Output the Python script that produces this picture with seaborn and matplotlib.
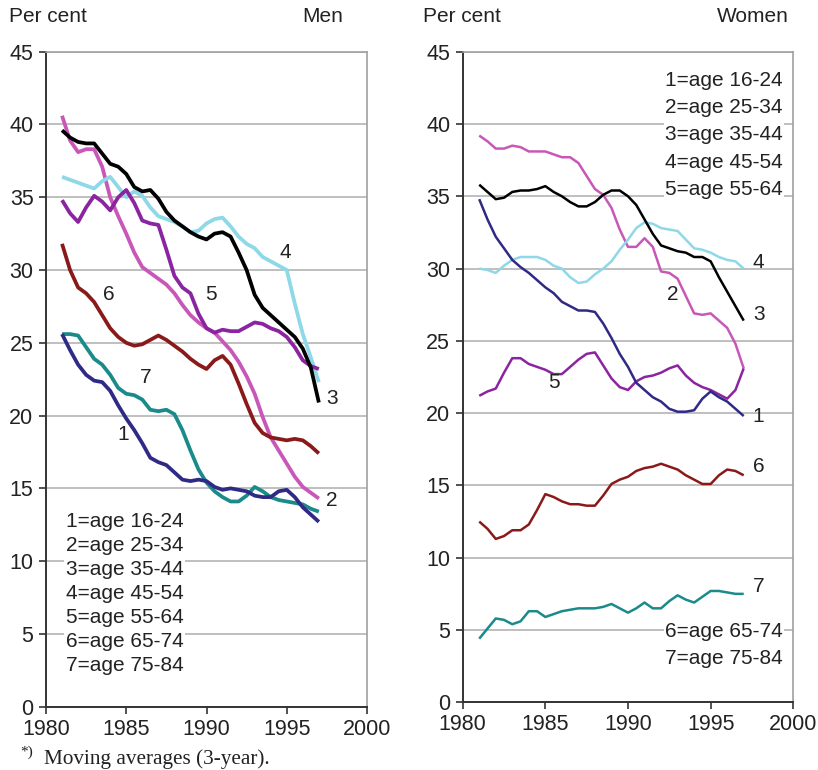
import matplotlib
matplotlib.use("Agg")
import matplotlib.pyplot as plt
import numpy as np
import pandas as pd
import seaborn as sns

# ---------------- data ----------------
years = [1981 + 0.5 * i for i in range(33)]

men_1 = [25.6, 24.5, 23.5, 22.8, 22.4, 22.3, 21.7, 20.7, 19.8, 19.0, 18.1, 17.1, 16.8, 16.6, 16.1, 15.6, 15.5,
         15.6, 15.5, 15.1, 14.9, 15.0, 14.9, 14.8, 14.5, 14.4, 14.4, 14.8, 14.9, 14.4, 13.7, 13.2, 12.7]
men_2 = [40.6, 38.9, 38.1, 38.3, 38.3, 37.1, 35.0, 33.7, 32.5, 31.2, 30.2, 29.8, 29.4, 29.0, 28.4, 27.6, 26.9,
         26.4, 26.0, 25.7, 25.1, 24.5, 23.7, 22.7, 21.5, 19.9, 18.5, 17.6, 16.7, 15.8, 15.1, 14.7, 14.3]
men_3 = [39.6, 39.1, 38.8, 38.7, 38.7, 38.0, 37.3, 37.1, 36.6, 35.7, 35.4, 35.5, 34.9, 34.0, 33.4, 33.0, 32.6,
         32.3, 32.1, 32.5, 32.6, 32.3, 31.2, 30.0, 28.3, 27.4, 26.9, 26.4, 25.9, 25.4, 24.6, 23.3, 20.9]
men_4 = [36.4, 36.2, 36.0, 35.8, 35.6, 36.1, 36.4, 35.7, 35.0, 35.4, 35.1, 34.3, 33.7, 33.5, 33.3, 33.0, 32.6,
         32.7, 33.2, 33.5, 33.6, 33.0, 32.3, 31.8, 31.5, 30.9, 30.6, 30.3, 30.0, 27.7, 25.6, 24.0, 22.3]
men_5 = [34.8, 33.9, 33.3, 34.3, 35.1, 34.7, 34.1, 35.0, 35.5, 34.6, 33.4, 33.2, 33.1, 31.4, 29.6, 28.8, 28.4,
         27.0, 26.0, 25.7, 25.9, 25.8, 25.8, 26.1, 26.4, 26.3, 26.0, 25.8, 25.4, 24.7, 23.8, 23.4, 23.2]
men_6 = [31.8, 30.0, 28.8, 28.4, 27.8, 26.9, 26.0, 25.4, 25.0, 24.8, 24.9, 25.2, 25.5, 25.2, 24.8, 24.4, 23.9,
         23.5, 23.2, 23.8, 24.1, 23.5, 22.2, 20.8, 19.5, 18.8, 18.5, 18.4, 18.3, 18.4, 18.3, 17.9, 17.4]
men_7 = [25.6, 25.6, 25.5, 24.7, 23.9, 23.5, 22.8, 21.9, 21.5, 21.4, 21.1, 20.4, 20.3, 20.4, 20.1, 19.0, 17.6,
         16.3, 15.4, 14.8, 14.4, 14.1, 14.1, 14.5, 15.1, 14.8, 14.4, 14.2, 14.1, 14.0, 13.9, 13.6, 13.4]

women_1 = [34.8, 33.4, 32.2, 31.4, 30.6, 30.1, 29.7, 29.2, 28.7, 28.3, 27.7, 27.4, 27.1, 27.1, 27.0, 26.2, 25.2,
           24.1, 23.2, 22.1, 21.6, 21.1, 20.8, 20.3, 20.1, 20.1, 20.2, 21.0, 21.5, 21.1, 20.8, 20.3, 19.8]
women_2 = [39.2, 38.8, 38.3, 38.3, 38.5, 38.4, 38.1, 38.1, 38.1, 37.9, 37.7, 37.7, 37.3, 36.4, 35.5, 35.1, 34.2,
           32.7, 31.5, 31.5, 32.1, 31.5, 29.8, 29.7, 29.3, 28.1, 26.9, 26.8, 26.9, 26.4, 25.9, 24.8, 23.1]
women_3 = [35.8, 35.3, 34.8, 34.9, 35.3, 35.4, 35.4, 35.5, 35.7, 35.3, 35.0, 34.6, 34.3, 34.3, 34.6, 35.1, 35.4,
           35.4, 35.0, 34.4, 33.4, 32.4, 31.6, 31.4, 31.2, 31.1, 30.8, 30.8, 30.5, 29.4, 28.4, 27.4, 26.4]
women_4 = [30.0, 29.9, 29.7, 30.2, 30.6, 30.8, 30.8, 30.8, 30.6, 30.2, 30.0, 29.4, 29.0, 29.1, 29.6, 30.0, 30.5,
           31.3, 32.0, 32.8, 33.2, 33.1, 32.8, 32.7, 32.6, 32.0, 31.4, 31.3, 31.1, 30.8, 30.6, 30.5, 30.0]
women_5 = [21.2, 21.5, 21.7, 22.8, 23.8, 23.8, 23.4, 23.2, 23.0, 22.7, 22.7, 23.2, 23.7, 24.1, 24.2, 23.3, 22.4,
           21.8, 21.6, 22.2, 22.5, 22.6, 22.8, 23.1, 23.3, 22.6, 22.1, 21.8, 21.6, 21.3, 21.0, 21.6, 23.1]
women_6 = [12.5, 12.0, 11.3, 11.5, 11.9, 11.9, 12.3, 13.3, 14.4, 14.2, 13.9, 13.7, 13.7, 13.6, 13.6, 14.3, 15.1,
           15.4, 15.6, 16.0, 16.2, 16.3, 16.5, 16.3, 16.1, 15.7, 15.4, 15.1, 15.1, 15.7, 16.1, 16.0, 15.7]
women_7 = [4.4, 5.1, 5.8, 5.7, 5.4, 5.6, 6.3, 6.3, 5.9, 6.1, 6.3, 6.4, 6.5, 6.5, 6.5, 6.6, 6.8,
           6.5, 6.2, 6.5, 6.9, 6.5, 6.5, 7.0, 7.4, 7.1, 6.9, 7.3, 7.7, 7.7, 7.6, 7.5, 7.5]

groups = ["1", "2", "3", "4", "5", "6", "7"]
legend_labels = ["1=age 16-24", "2=age 25-34", "3=age 35-44", "4=age 45-54",
                 "5=age 55-64", "6=age 65-74", "7=age 75-84"]
x_ticks = [1980, 1985, 1990, 1995, 2000]
y_ticks = [0, 5, 10, 15, 20, 25, 30, 35, 40, 45]

colors = {"1": "#2E2A85", "2": "#C857B8", "3": "#000000", "4": "#8ED8E8",
          "5": "#8B24A0", "6": "#8A1A1A", "7": "#1A8A8A"}

men_series = [men_1, men_2, men_3, men_4, men_5, men_6, men_7]
women_series = [women_1, women_2, women_3, women_4, women_5, women_6, women_7]


def long_df(series):
    rows = []
    for g, vals in zip(groups, series):
        for yr, v in zip(years, vals):
            rows.append({"year": yr, "value": v, "group": g})
    return pd.DataFrame(rows)


df_men = long_df(men_series)
df_women = long_df(women_series)

# line end labels (data coordinates)
men_lab = {"4": (1994.9, 31.2), "6": (1983.9, 28.3), "5": (1990.3, 28.3), "7": (1986.2, 22.6),
           "1": (1984.8, 18.7), "3": (1997.8, 21.2), "2": (1997.8, 14.2)}
women_lab = {"4": (1997.9, 30.4), "3": (1997.9, 26.8), "2": (1992.7, 28.2), "5": (1985.5, 22.1),
             "1": (1997.9, 19.75), "6": (1997.9, 16.3), "7": (1997.9, 8.0)}

# ---------------- style ----------------
sns.set_style("white")
plt.rcParams["font.family"] = ["Liberation Sans", "DejaVu Sans"]

W, H = 818, 770
fig = plt.figure(figsize=(W / 100, H / 100), dpi=100)


def px_axes(x0, x1, ytop, ybot):
    return fig.add_axes([x0 / W, 1 - ybot / H, (x1 - x0) / W, (ybot - ytop) / H])


axL = px_axes(46, 367, 51.7, 706.7)
axR = px_axes(462.7, 793.3, 51.7, 702.3)

hue_order = ["2", "4", "5", "3", "6", "7", "1"]

sns.lineplot(data=df_men, x="year", y="value", hue="group", hue_order=hue_order,
             palette=colors, linewidth=2.7, legend=False, ax=axL, sort=True)
sns.lineplot(data=df_women, x="year", y="value", hue="group", hue_order=hue_order,
             palette=colors, linewidth=1.8, legend=False, ax=axR, sort=True)

for ax in (axL, axR):
    for ln in ax.get_lines():
        ln.set_solid_joinstyle("round")
        ln.set_solid_capstyle("butt")
    ax.set_xlim(1980, 2000)
    ax.set_ylim(0, 45)
    ax.set_xticks(x_ticks)
    ax.set_yticks(y_ticks)
    ax.set_xlabel("")
    ax.set_ylabel("")
    ax.yaxis.grid(True, color="#b4b4b4", linewidth=1.2)
    ax.xaxis.grid(False)
    ax.set_axisbelow(True)
    ax.spines["left"].set_color("#333333")
    ax.spines["bottom"].set_color("#333333")
    ax.spines["left"].set_linewidth(1.4)
    ax.spines["bottom"].set_linewidth(1.4)
    ax.spines["top"].set_color("#a0a0a0")
    ax.spines["right"].set_color("#a0a0a0")
    ax.spines["top"].set_linewidth(1.2)
    ax.spines["right"].set_linewidth(1.2)
    ax.tick_params(axis="both", direction="out", length=5, width=1.2, color="#333333",
                   labelsize=15.5, labelcolor="#222222")
    ax.tick_params(axis="y", pad=4, left=True)
    ax.tick_params(axis="x", pad=3.5, bottom=True)

# line labels
for g, (xx, yy) in men_lab.items():
    axL.text(xx, yy, g, fontsize=15, ha="center", va="center", color="#222222")
for g, (xx, yy) in women_lab.items():
    axR.text(xx, yy, g, fontsize=15, ha="center", va="center", color="#222222")

# legends as text blocks with white background
axL.text(0.062, 0.173, "\n".join(legend_labels), transform=axL.transAxes, fontsize=15,
         ha="left", va="center", linespacing=1.34, color="#222222",
         bbox=dict(facecolor="white", edgecolor="none", pad=1))
axR.text(0.968, 0.872, "\n".join(legend_labels[:5]), transform=axR.transAxes, fontsize=15,
         ha="right", va="center", linespacing=1.55, color="#222222",
         bbox=dict(facecolor="white", edgecolor="none", pad=1))
axR.text(0.968, 0.088, "\n".join(legend_labels[5:]), transform=axR.transAxes, fontsize=15,
         ha="right", va="center", linespacing=1.55, color="#222222",
         bbox=dict(facecolor="white", edgecolor="none", pad=1))

# headers
fig.text(9 / W, 1 - 17 / H, "Per cent", fontsize=15, ha="left", va="center", color="#222222")
fig.text(343 / W, 1 - 17 / H, "Men", fontsize=15, ha="right", va="center", color="#222222")
fig.text(423 / W, 1 - 17 / H, "Per cent", fontsize=15, ha="left", va="center", color="#222222")
fig.text(789 / W, 1 - 17 / H, "Women", fontsize=15, ha="right", va="center", color="#222222")

# footnote
fig.text(20 / W, 1 - 752 / H, "*)", fontsize=11, ha="left", va="center", color="#222222",
         family=["Liberation Serif", "DejaVu Serif"])
fig.text(44 / W, 1 - 764 / H, "Moving averages (3-year).", fontsize=15.3, ha="left", va="baseline",
         color="#222222", family=["Liberation Serif", "DejaVu Serif"])

fig.savefig("out.png", dpi=100)
